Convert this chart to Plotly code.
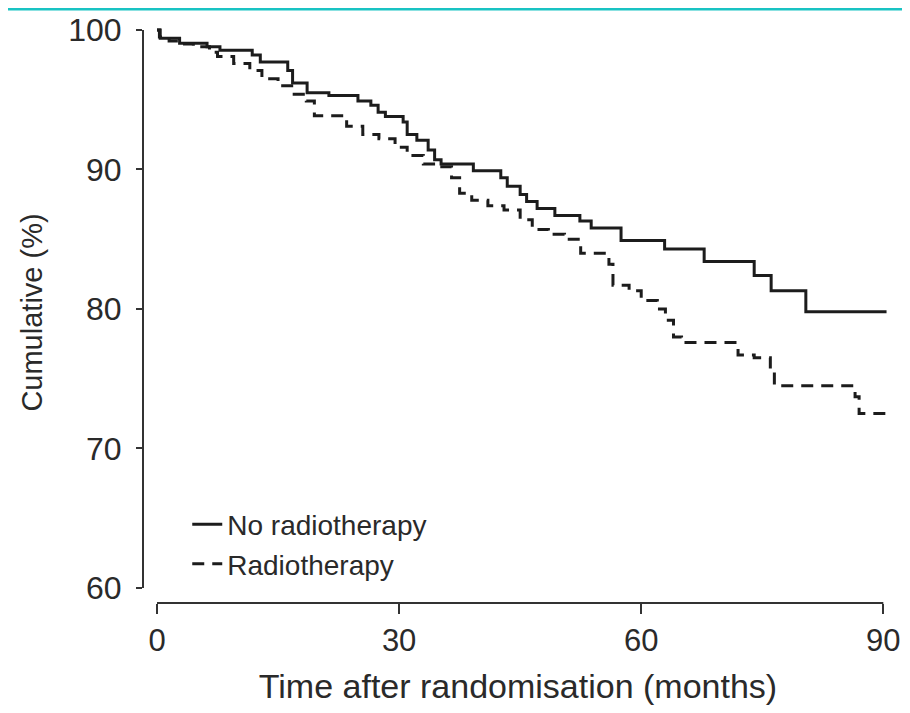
import plotly.graph_objects as go

# --- Data ---
no_rt_months = [0, 0.4, 2.8, 6.2, 7.8, 11.8, 12.8, 16.2, 16.8, 18.6, 21.3, 24.9, 26.5,
                27.4, 28.3, 30.5, 31.0, 32.2, 33.6, 34.4, 35.2, 39.2, 42.6, 43.4, 45.0,
                45.8, 47.1, 49.3, 52.4, 53.8, 57.5, 62.9, 67.8, 74.0, 76.1, 80.4, 90.4]
no_rt_values = [100, 99.4, 99.05, 98.8, 98.55, 98.2, 97.7, 97.1, 96.2, 95.5, 95.3, 94.9,
                94.6, 94.1, 93.8, 93.4, 92.5, 92.1, 91.4, 90.7, 90.4, 89.9, 89.4, 88.8,
                88.2, 87.7, 87.2, 86.7, 86.3, 85.8, 84.9, 84.3, 83.4, 82.4, 81.3, 79.8, 79.8]

rt_months = [0, 0.3, 1.5, 3.0, 4.5, 6.5, 7.5, 9.5, 11.5, 13.0, 15.0, 17.0, 18.5, 19.5,
             23.5, 25.5, 27.5, 29.5, 31.0, 33.0, 35.0, 36.5, 37.5, 39.0, 41.0, 43.0,
             45.0, 46.5, 48.5, 50.5, 52.5, 56.0, 56.5, 58.5, 60.0, 62.0, 63.0, 64.0,
             65.0, 72.0, 74.0, 76.0, 76.5, 86.5, 87.0, 90.6]
rt_values = [100, 99.5, 99.2, 99.0, 98.8, 98.4, 98.1, 97.6, 97.1, 96.5, 96.0, 95.4, 94.9,
             93.85, 93.1, 92.5, 92.2, 91.6, 91.0, 90.4, 90.2, 89.4, 88.3, 87.8, 87.4,
             87.1, 86.4, 85.7, 85.35, 85.0, 84.0, 83.2, 81.7, 81.3, 80.6, 80.0, 79.2,
             78.0, 77.6, 76.7, 76.5, 75.5, 74.5, 73.7, 72.5, 72.5]

x_ticks = [0, 30, 60, 90]
y_ticks = [60, 70, 80, 90, 100]
series_names = ["No radiotherapy", "Radiotherapy"]

FONT = "Liberation Sans, Arial, sans-serif"
TXT = "#2a2a2a"
INK = "#1c1c1c"

fig = go.Figure()
fig.add_trace(go.Scatter(x=no_rt_months, y=no_rt_values, mode="lines", line_shape="hv",
                         name=series_names[0], line=dict(color=INK, width=3)))
fig.add_trace(go.Scatter(x=rt_months, y=rt_values, mode="lines", line_shape="hv",
                         name=series_names[1],
                         line=dict(color=INK, width=3, dash="12px,8px")))

# page body has an 8px margin, so the figure is offset by (8, 8)
fig.update_layout(
    width=902, height=697,
    margin=dict(l=135, r=17, t=14, b=102, autoexpand=False),
    paper_bgcolor="white", plot_bgcolor="white",
    font=dict(family=FONT, color=TXT, size=30),
    showlegend=True,
    legend=dict(x=0.059, y=0.178, xanchor="left", yanchor="top",
                bgcolor="rgba(0,0,0,0)", font=dict(size=28, color=TXT),
                tracegroupgap=0, itemwidth=30),
    xaxis=dict(range=[-1.735, 91.2], tickvals=x_ticks, ticktext=[str(v) for v in x_ticks],
               showgrid=False, zeroline=False, showline=False, automargin=False,
               ticks="outside", ticklen=10, tickwidth=2, tickcolor="#333",
               ticklabelstandoff=0, tickfont=dict(size=31),
               title=dict(text="Time after randomisation (months)", font=dict(size=34),
                          standoff=26)),
    yaxis=dict(range=[58.925, 100.57], tickvals=y_ticks, ticktext=[str(v) for v in y_ticks],
               showgrid=False, zeroline=False, showline=False, automargin=False,
               ticks="outside", ticklen=6, tickwidth=2, tickcolor="#333",
               ticklabelstandoff=8, tickfont=dict(size=32),
               title=dict(text="Cumulative (%)", font=dict(size=29), standoff=17)),
    shapes=[
        # detached y-axis line (60 to 100)
        dict(type="line", xref="paper", yref="y", x0=0, x1=0, y0=60, y1=100,
             line=dict(color="#333", width=2)),
        # detached x-axis line (0 to 90)
        dict(type="line", xref="x", yref="paper", x0=0, x1=90, y0=0, y1=0,
             line=dict(color="#333", width=2)),
        # teal rule at top of the page
        dict(type="line", xref="paper", yref="paper", x0=-0.2, x1=1.05,
             y0=1.0224, y1=1.0224, line=dict(color="#19c3c3", width=3)),
    ],
)

fig.write_html("out.html")
